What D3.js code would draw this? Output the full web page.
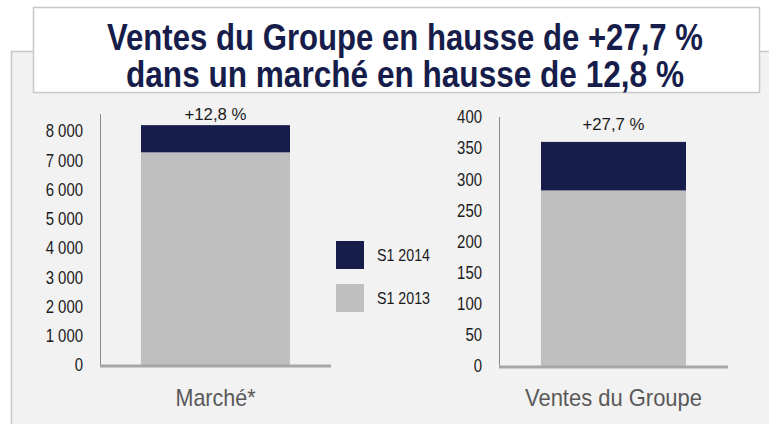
<!DOCTYPE html>
<html>
<head>
<meta charset="utf-8">
<script src="https://cdn.jsdelivr.net/npm/d3@7"></script>
<style>
  html, body { margin: 0; padding: 0; background: #fff; }
  svg { display: block; }
  text { font-family: "Liberation Sans", Arial, sans-serif; }
</style>
</head>
<body>
<div id="chart"></div>
<script>
const titleLines = ['Ventes du Groupe en hausse de +27,7 %', 'dans un marché en hausse de 12,8 %'];
const seriesNames = ['S1 2013', 'S1 2014'];
const colors = ['#bfbfbf', '#161d4a'];

// market (left panel)
const marketLabel = 'Marché*';
const market2013 = 7270;
const market2014 = 8200;
const marketTicks = [0, 1000, 2000, 3000, 4000, 5000, 6000, 7000, 8000];
const marketGrowth = '+12,8 %';

// group sales (right panel)
const groupLabel = 'Ventes du Groupe';
const group2013 = 282;
const group2014 = 360;
const groupTicks = [0, 50, 100, 150, 200, 250, 300, 350, 400];
const groupGrowth = '+27,7 %';

const W = 769, H = 424;
const narrow = 0.83; // condensed look of the original font

const svg = d3.select('#chart').append('svg')
  .attr('width', W)
  .attr('height', H);

// grey slide panel
svg.append('rect')
  .attr('x', 11.5).attr('y', 51.5)
  .attr('width', W).attr('height', H)
  .attr('fill', '#f2f2f2')
  .attr('stroke', '#c8c8c8')
  .attr('stroke-width', 1.5);

// title box
svg.append('rect')
  .attr('x', 33.5).attr('y', 7.5)
  .attr('width', 726).attr('height', 85)
  .attr('fill', '#fff')
  .attr('stroke', '#c8c8c8')
  .attr('stroke-width', 1.5);

const titleWidths = [596, 558];
svg.append('g')
  .selectAll('text')
  .data(titleLines)
  .join('text')
  .attr('x', 405)
  .attr('y', (d, i) => 50 + i * 37)
  .attr('text-anchor', 'middle')
  .attr('font-size', 36)
  .attr('font-weight', 'bold')
  .attr('fill', '#161d4a')
  .attr('textLength', (d, i) => titleWidths[i])
  .attr('lengthAdjust', 'spacingAndGlyphs')
  .text(d => d);

function drawPanel({ axisX, barX0, baseEnd, y, ticks, fmt, axisTop, v2013, v2014, growth, growthY, label, labelW }) {
  const g = svg.append('g');

  const frac = (barX0 - axisX) / (baseEnd - axisX);
  const x = d3.scaleBand()
    .domain([label])
    .range([axisX, baseEnd])
    .paddingInner(0)
    .paddingOuter(frac / (1 - 2 * frac));

  const pad = 17;
  const yAxis = d3.axisLeft(y)
    .tickValues(ticks)
    .tickFormat(fmt)
    .tickSize(0)
    .tickPadding(pad);

  const ax = g.append('g')
    .attr('transform', `translate(${axisX}, 0)`)
    .call(yAxis);
  ax.select('.domain').remove();
  ax.selectAll('text')
    .attr('font-family', null)
    .attr('font-size', 18)
    .attr('fill', '#1a1a1a')
    .attr('x', -pad / narrow)
    .attr('transform', `scale(${narrow},1)`);

  g.append('line')
    .attr('x1', axisX + 0.5).attr('x2', axisX + 0.5)
    .attr('y1', axisTop).attr('y2', y(0))
    .attr('stroke', '#8c8c8c')
    .attr('stroke-width', 1);

  const stack = [
    { name: seriesNames[0], y0: 0, y1: v2013, color: colors[0] },
    { name: seriesNames[1], y0: v2013, y1: v2014, color: colors[1] },
  ];

  g.selectAll('.bar')
    .data(stack)
    .join('rect')
    .attr('class', 'bar')
    .attr('x', x(label))
    .attr('width', x.bandwidth())
    .attr('y', d => y(d.y1))
    .attr('height', d => y(d.y0) - y(d.y1))
    .attr('fill', d => d.color);

  g.append('line')
    .attr('x1', axisX).attr('x2', baseEnd)
    .attr('y1', y(0) + 1).attr('y2', y(0) + 1)
    .attr('stroke', '#a6a6a6')
    .attr('stroke-width', 3);

  const cx = x(label) + x.bandwidth() / 2;

  g.append('text')
    .attr('x', cx)
    .attr('y', growthY)
    .attr('text-anchor', 'middle')
    .attr('font-size', 16)
    .attr('fill', '#1a1a1a')
    .attr('textLength', 62)
    .attr('lengthAdjust', 'spacingAndGlyphs')
    .text(growth);

  g.append('text')
    .attr('x', cx)
    .attr('y', 406)
    .attr('text-anchor', 'middle')
    .attr('font-size', 24)
    .attr('fill', '#595959')
    .attr('textLength', labelW)
    .attr('lengthAdjust', 'spacingAndGlyphs')
    .text(label);
}

const frFmt = d3.formatLocale({ decimal: ',', thousands: ' ', grouping: [3], currency: ['', ' €'] });

drawPanel({
  axisX: 100, barX0: 141, baseEnd: 331,
  y: d3.scaleLinear().domain([0, 8000]).range([365, 131]),
  ticks: marketTicks, fmt: frFmt.format(',d'), axisTop: 114,
  v2013: market2013, v2014: market2014, growth: marketGrowth, growthY: 120,
  label: marketLabel, labelW: 80,
});

drawPanel({
  axisX: 499, barX0: 541, baseEnd: 728,
  y: d3.scaleLinear().domain([0, 400]).range([366, 117]),
  ticks: groupTicks, fmt: d3.format('d'), axisTop: 117,
  v2013: group2013, v2014: group2014, growth: groupGrowth, growthY: 130,
  label: groupLabel, labelW: 177,
});

// legend
const legend = svg.append('g')
  .attr('transform', 'translate(336, 241)');
const items = legend.selectAll('g')
  .data([seriesNames[1], seriesNames[0]])
  .join('g')
  .attr('transform', (d, i) => `translate(0, ${i * 43})`);
items.append('rect')
  .attr('width', 28).attr('height', 28)
  .attr('fill', d => colors[seriesNames.indexOf(d)]);
items.append('text')
  .attr('x', 41)
  .attr('y', 14)
  .attr('dy', '0.35em')
  .attr('font-size', 16)
  .attr('fill', '#1a1a1a')
  .attr('textLength', 53)
  .attr('lengthAdjust', 'spacingAndGlyphs')
  .text(d => d);
</script>
</body>
</html>
